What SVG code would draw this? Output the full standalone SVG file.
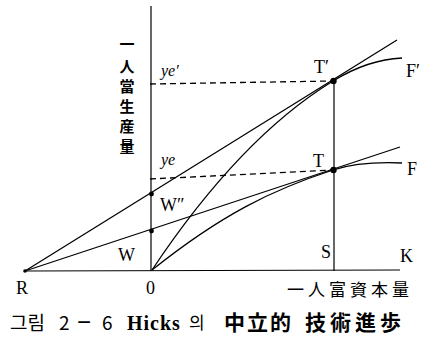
<svg xmlns="http://www.w3.org/2000/svg" width="426" height="338" viewBox="0 0 426 338">
<style>
.ln{fill:none;stroke:#000;stroke-width:1.3}
.ax{fill:none;stroke:#000;stroke-width:1.2}
.dash{fill:none;stroke:#000;stroke-width:1.3;stroke-dasharray:6 4}
.lbl{font-family:"Liberation Serif",serif;font-size:18px;fill:#000}
.it{font-family:"Liberation Serif",serif;font-style:italic;font-size:16px;fill:#000}
.cjk{font-family:"Noto Sans CJK KR","Noto Sans CJK JP",sans-serif;fill:#000}
</style>
<rect width="426" height="338" fill="#fff"/>
<g id="connectors">
<line class="ax" x1="151" y1="6" x2="151" y2="271"/>
<line class="ax" x1="25" y1="271" x2="400" y2="270"/>
<line class="ax" x1="334" y1="81" x2="334" y2="271"/>
<line class="dash" x1="150" y1="84" x2="333" y2="81"/>
<line class="dash" x1="150" y1="179" x2="333" y2="170"/>
<line class="ln" x1="25" y1="271" x2="397" y2="40"/>
<line class="ln" x1="25" y1="271" x2="400" y2="147"/>
<path class="ln" d="M152,270 C212,180 273,117.8 333,81 C355,67.5 378,59 402,58"/>
<path class="ln" d="M152,270 C222,214 273,189.5 333,170 C353,163.5 378,162 402,163"/>
</g>
<g id="R"><circle cx="25" cy="271" r="1.8"/><text class="lbl" x="16" y="294">R</text></g>
<g id="O"><text class="lbl" x="146" y="294">0</text></g>
<g id="W"><circle cx="151.5" cy="231" r="2.4"/><text class="lbl" x="118" y="261">W</text></g>
<g id="W2"><circle cx="151.5" cy="194" r="2.4"/><text class="lbl" x="160" y="211" font-size="15">W″</text></g>
<g id="T"><circle cx="333.5" cy="170" r="3.2"/><text class="lbl" x="313" y="167">T</text></g>
<g id="T2"><circle cx="333.5" cy="81" r="3.2"/><text class="lbl" x="314" y="73">T′</text></g>
<g id="F"><text class="lbl" x="407" y="175">F</text></g>
<g id="F2"><text class="lbl" x="406" y="77">F′</text></g>
<g id="S"><text class="lbl" x="321" y="258">S</text></g>
<g id="K"><text class="lbl" x="400" y="262">K</text></g>
<g id="ye"><text class="it" x="161" y="165">ye</text></g>
<g id="ye2"><text class="it" x="161" y="76">ye′</text></g>
<g id="ylabel"><text class="cjk" font-size="15" font-weight="bold" text-anchor="middle">
<tspan x="127" y="50">一</tspan><tspan x="127" y="72">人</tspan><tspan x="127" y="92">當</tspan><tspan x="127" y="112">生</tspan><tspan x="127" y="132">産</tspan><tspan x="127" y="152">量</tspan></text></g>
<g id="xlabel"><text class="cjk" font-size="17" x="287" y="296" letter-spacing="4">一人富資本量</text></g>
<g id="caption">
<text class="cjk" font-size="19" y="330"><tspan x="10">그림</tspan><tspan x="59">2</tspan></text>
<text x="77" y="330" font-family="Liberation Sans,sans-serif" font-size="24">−</text>
<text class="cjk" font-size="19" x="102" y="330">6</text>
<text x="127" y="330" font-family="Liberation Serif,serif" font-weight="bold" font-size="20" letter-spacing="1">Hicks</text>
<text class="cjk" font-size="17" x="189" y="329">의</text>
<text class="cjk" font-size="21" font-weight="bold" x="224" y="330" letter-spacing="2">中立的</text>
<text class="cjk" font-size="21" font-weight="bold" x="305" y="330" letter-spacing="4">技術進歩</text>
</g>
</svg>
